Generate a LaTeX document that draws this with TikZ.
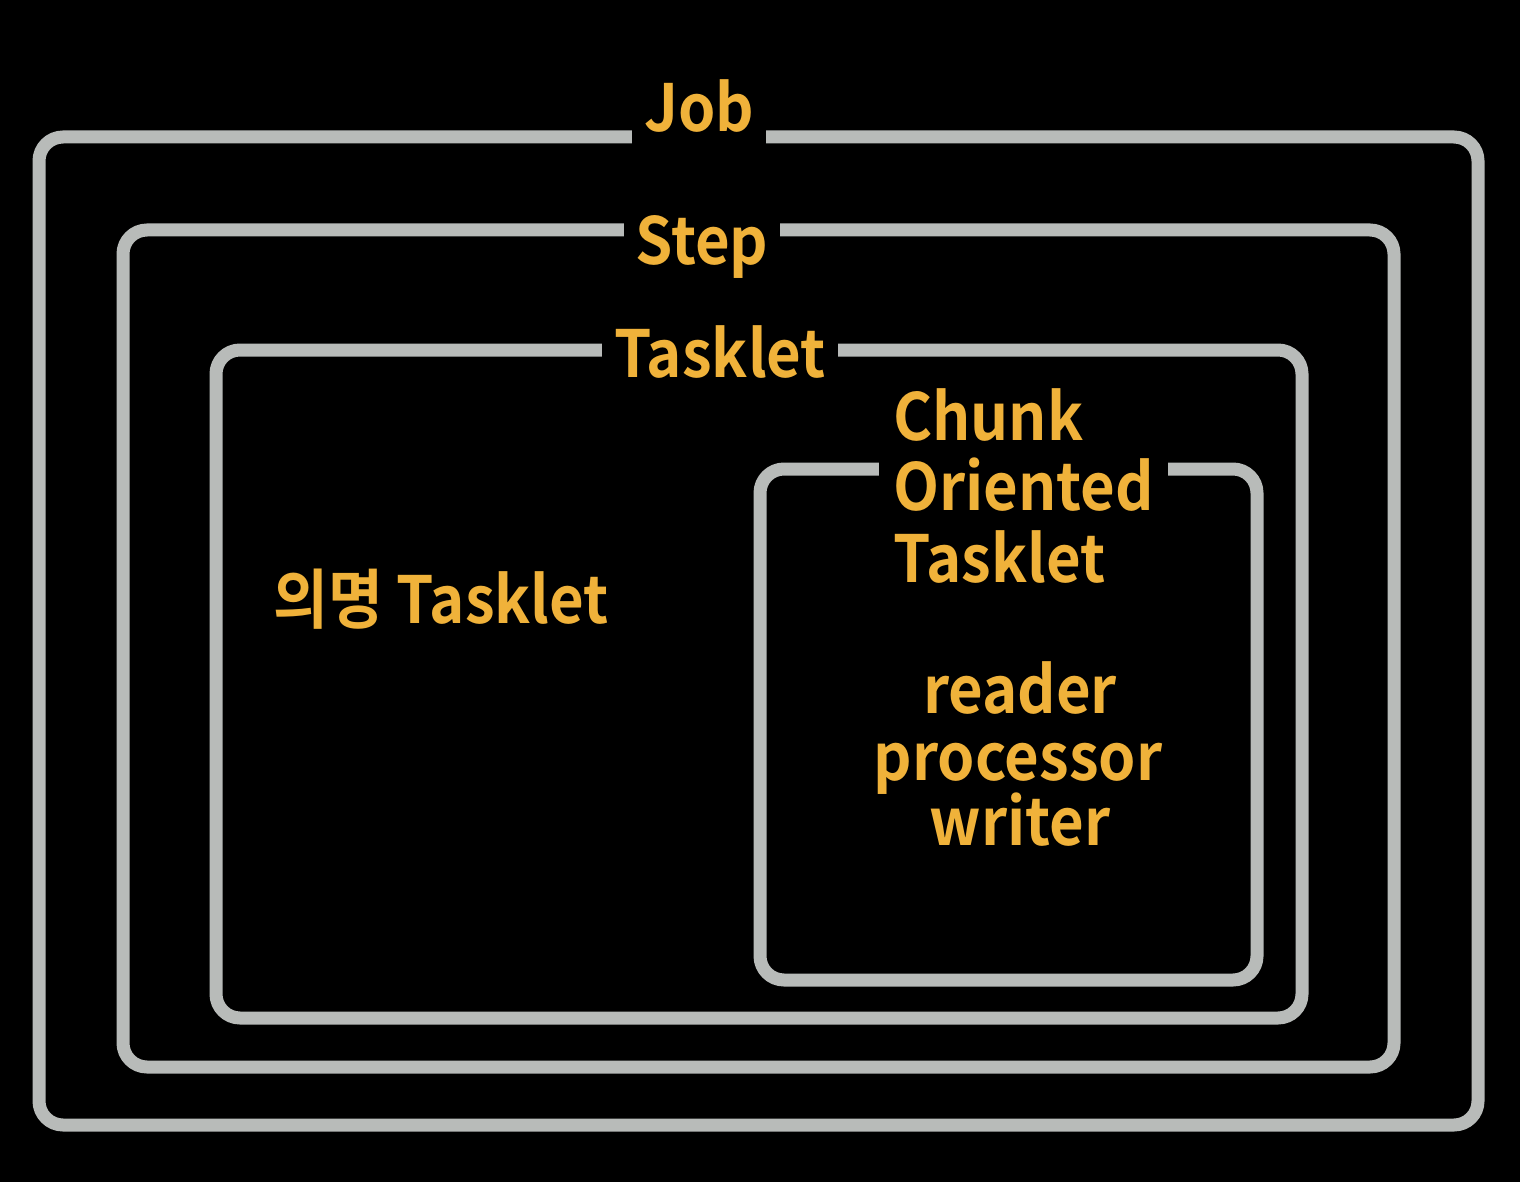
\documentclass[tikz,border=0pt]{standalone}
\usepackage{fontspec}
\newfontfamily\lblfont{Noto Sans CJK KR}[UprightFont={* Bold},FakeStretch=0.92]
\definecolor{framegray}{HTML}{B8BBB9}
\definecolor{labelorange}{HTML}{F0B23A}
\begin{document}
\begin{tikzpicture}[x=1pt,y=-1pt,
  box/.style={draw=framegray,line width=13pt,rounded corners=24pt},
  txt/.style={text=labelorange,inner sep=0pt,font=\lblfont\fontsize{65}{71}\selectfont},
  gaplabel/.style={txt,fill=black,inner xsep=12pt,inner ysep=14pt}]
\useasboundingbox (0,0) rectangle (1520,1182);
\fill[black] (0,0) rectangle (1520,1182);
% frames
\draw[box] (39,137) rectangle (1478,1125);
\draw[box] (123,230) rectangle (1394,1067);
\draw[box] (216,350) rectangle (1302,1018);
\draw[box] (760,469) rectangle (1257,980);
% frame labels
\node[gaplabel,anchor=base] (job) at (699,132) {Job};
\node[gaplabel,anchor=base] (step) at (702,265) {Step};
\node[gaplabel,anchor=base] (tasklet) at (720,377) {Tasklet};
\node[txt,anchor=base west] (chunk1) at (893,440) {Chunk};
\node[gaplabel,anchor=base west,inner xsep=14pt] (chunk2) at (879,510) {Oriented};
\node[txt,anchor=base west] (chunk3) at (893,582) {Tasklet};
% contents
\node[txt,anchor=base west] (anon) at (273,623) {의명 Tasklet};
\node[txt,anchor=base] (reader) at (1020,713) {reader};
\node[txt,anchor=base] (processor) at (1018,780) {processor};
\node[txt,anchor=base] (writer) at (1020,845) {writer};
\end{tikzpicture}
\end{document}
